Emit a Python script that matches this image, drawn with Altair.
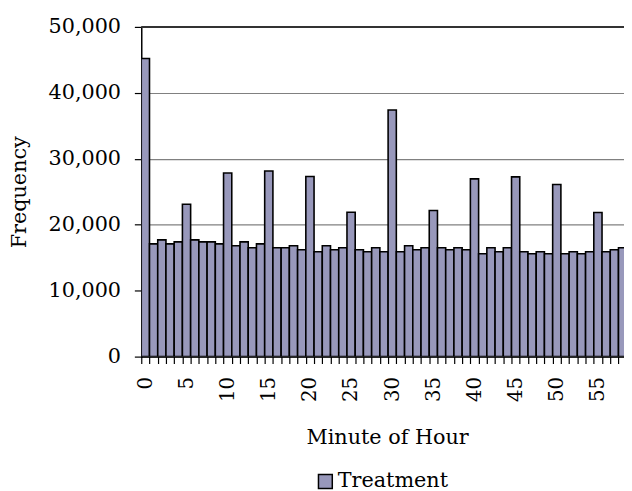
import altair as alt
import pandas as pd

minutes = list(range(59))
frequency = [
    45200, 17100, 17700, 17100, 17400, 23100, 17700, 17400, 17400, 17100,
    27850, 16800, 17400, 16500, 17100, 28150, 16500, 16500, 16800, 16200,
    27300, 15900, 16800, 16200, 16500, 21900, 16200, 15900, 16500, 15900,
    37400, 15900, 16800, 16200, 16500, 22150, 16500, 16200, 16500, 16200,
    26950, 15600, 16500, 15900, 16500, 27250, 15900, 15600, 15900, 15600,
    26100, 15600, 15900, 15600, 15900, 21850, 15900, 16200, 16500,
]
series = ["Treatment"] * len(minutes)
x_ticks = list(range(59))
y_ticks = [0, 10000, 20000, 30000, 40000, 50000]

df = pd.DataFrame({"Minute": minutes, "Frequency": frequency, "Series": series})

FONT = "DejaVu Serif"

x_scale = alt.Scale(domain=[0, 58.67], nice=False, zero=False)
y_scale = alt.Scale(domain=[0, 50000], nice=False)

y_axis = alt.Axis(values=y_ticks, labelExpr="format(datum.value, ',')", title="Frequency",
                  labelFontSize=21, labelFont=FONT, labelColor="black",
                  labelPadding=14, tickSize=7, tickColor="black", tickWidth=1.2,
                  domainColor="black", domainWidth=1.5,
                  gridColor="#808080", gridWidth=1.2,
                  titleFont=FONT, titleFontSize=21, titleFontWeight="normal",
                  titleColor="black", titleX=-123, titleY=167,
                  titleBaseline="middle")

bars = alt.Chart(df).transform_calculate(
    MinuteEnd="datum.Minute + 1"
).mark_bar(clip=True, stroke="black", strokeWidth=1.6, fill="#9898bb").encode(
    x=alt.X("Minute:Q", scale=x_scale,
            axis=alt.Axis(values=x_ticks, title="Minute of Hour",
                          labelExpr="datum.value % 5 == 0 ? datum.label : ''",
                          labelAngle=270, labelOffset=4.17, labelFlush=False,
                          labelOverlap=False, labelPadding=13, tickSize=7,
                          tickColor="black", tickWidth=1.2,
                          domainColor="black", domainWidth=1.5,
                          labelFontSize=20, labelFont=FONT, labelColor="black",
                          titleFont=FONT, titleFontSize=21, titleFontWeight="normal",
                          titleColor="black", titleX=249, titleY=88,
                          titleBaseline="alphabetic", grid=False)),
    x2="MinuteEnd:Q",
    y=alt.Y("Frequency:Q", scale=y_scale, axis=y_axis),
    y2=alt.datum(0),
    color=alt.Color("Series:N", scale=alt.Scale(range=["#9898bb"]),
                    legend=alt.Legend(title=None, orient="none", legendX=176,
                                      legendY=450, symbolType="square",
                                      symbolSize=196, symbolStrokeColor="black",
                                      symbolStrokeWidth=1.5, labelFont=FONT,
                                      labelFontSize=21, labelColor="black",
                                      labelOffset=2, padding=0)),
)

top_line = alt.Chart(pd.DataFrame({"Frequency": [50000]})).mark_rule(
    color="#333333", strokeWidth=2
).encode(y=alt.Y("Frequency:Q", scale=y_scale, axis=y_axis))

chart = alt.layer(bars, top_line).properties(
    width=489, height=334,
    autosize=alt.AutoSizeParams(type="none"),
    padding={"left": 135, "top": 16, "right": 0, "bottom": 133},
).configure_view(stroke=None).configure_axis(domainCap="square")

chart.save("out.html", embed_options={"renderer": "svg", "actions": False})
